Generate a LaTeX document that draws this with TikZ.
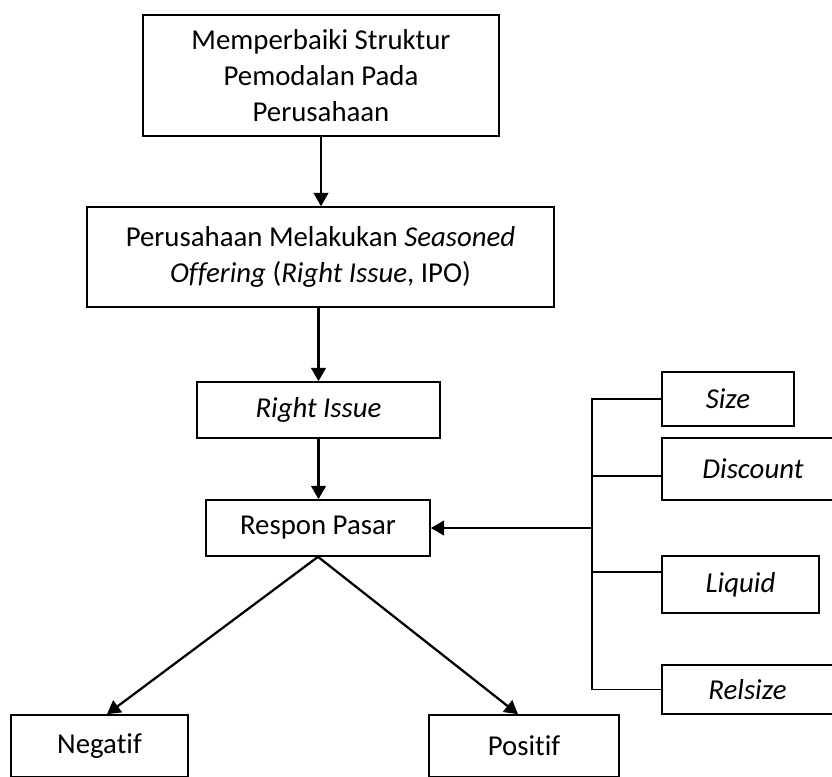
\documentclass[tikz,border=0pt]{standalone}
\usepackage{fontspec}
\setmainfont[Ligatures=NoCommon]{Carlito}
\usetikzlibrary{arrows.meta,calc}

\def\px{0.75pt}

\tikzset{
  kotak/.style={draw, line width=1.2pt, align=center, inner sep=0pt,
    font=\fontsize{21.6}{27}\selectfont},
  panah/.style={line width=1.7pt, -{Triangle[width=11pt,length=10pt]}},
  garis/.style={line width=1.2pt}
}

\begin{document}
\begin{tikzpicture}[x=\px, y=-\px]
\useasboundingbox (0,0) rectangle (832,776);
% alur utama
\node[kotak, minimum width=356*\px, minimum height=121*\px] (struktur) at (321,75.5)
  {Memperbaiki Struktur\\Pemodalan Pada\\Perusahaan};
\node[kotak, minimum width=467*\px, minimum height=100*\px] (penawaran) at (320.5,257)
  {Perusahaan Melakukan \textit{Seasoned}\\\textit{Offering} (\textit{Right Issue}, IPO)};
\node[kotak, minimum width=243*\px, minimum height=56*\px] (rightissue) at (318.5,410)
  {\textit{Right Issue}};
\node[kotak, minimum width=224*\px, minimum height=56*\px] (respon) at (318,528)
  {Respon Pasar};
\node[kotak, minimum width=177*\px, minimum height=62*\px] (negatif) at (99.5,746) {Negatif};
\node[kotak, minimum width=190*\px, minimum height=62*\px] (positif) at (524,746) {Positif};
% variabel
\node[kotak, minimum width=132*\px, minimum height=54*\px] (size) at (728,399) {\textit{Size}};
\node[kotak, minimum width=182*\px, minimum height=62*\px] (discount) at (753,469) {\textit{Discount}};
\node[kotak, minimum width=157*\px, minimum height=57*\px] (liquid) at (740.5,584.5) {\textit{Liquid}};
\node[kotak, minimum width=171*\px, minimum height=49*\px] (relsize) at (747.5,689.5) {\textit{Relsize}};
\coordinate (cabang) at (592,0);

\draw[panah] (struktur.south) -- (penawaran.north -| struktur.south);
\draw[panah] (rightissue.north |- penawaran.south) -- (rightissue.north);
\draw[panah] (rightissue.south) -- (respon.north -| rightissue.south);
\draw[panah] (respon.south) -- ($(negatif.north)+(7.5,0)$);
\draw[panah] (respon.south) -- ($(positif.north)+(-6,0)$);

\draw[garis] (size.west) -- (size.west -| cabang) -- (relsize.west -| cabang) -- (relsize.west);
\draw[garis] ([yshift=-5.25pt]discount.west) -- ([yshift=-5.25pt]discount.west -| cabang);
\draw[garis] ([yshift=9.4pt]liquid.west) -- ([yshift=9.4pt]liquid.west -| cabang);
\draw[panah] (respon.east -| cabang) -- (respon.east);
\end{tikzpicture}
\end{document}
